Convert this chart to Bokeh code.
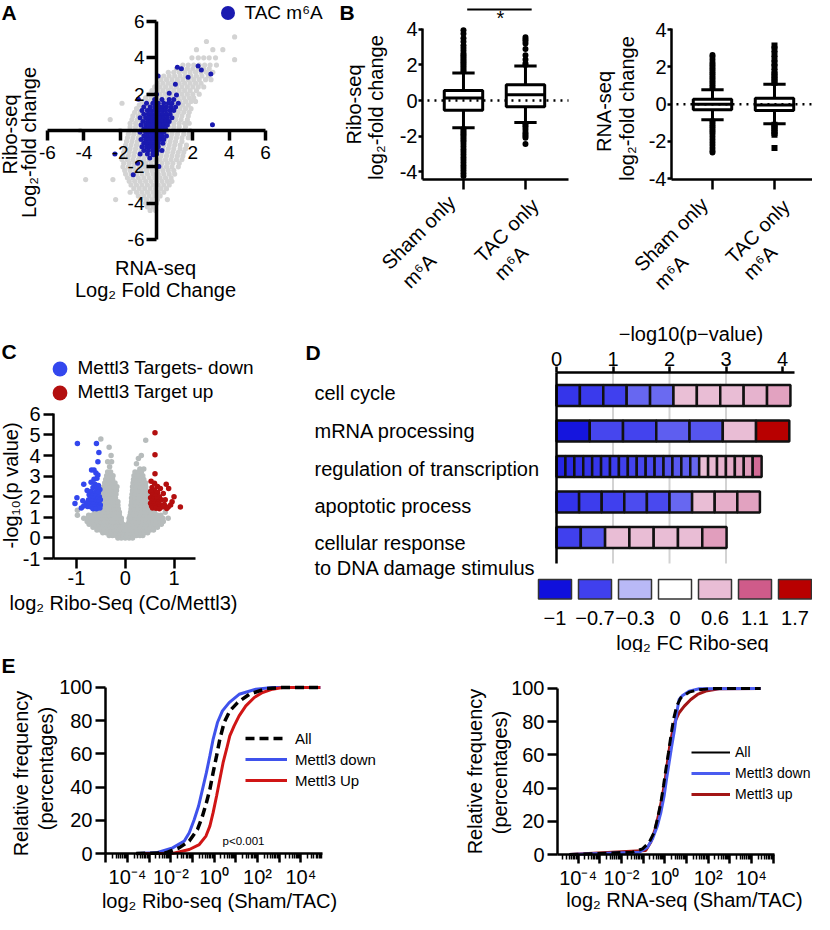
import math
from bokeh.plotting import figure
from bokeh.layouts import row, column
from bokeh.models import (Range1d, LinearAxis, LogAxis, LogScale, FixedTicker, Label,
                          Legend, LegendItem, CustomJSTickFormatter)
from bokeh.embed import file_html
from bokeh.resources import INLINE

FONT = "Liberation Sans"

# ---------------- DATA ----------------
# Panel A : Ribo-seq vs RNA-seq log2 fold change (rows of points: (y, [x...]))
a_ticks = [-6, -4, -2, 2, 4, 6]
a_gray_rows = [
    (5.15, [4.3]), (4.9, [2.75]), (4.45, [2.2, 3.1, 3.65]),
    (4.0, [1.95, 2.3, 2.6, 2.9, 3.25]), (3.9, [4.3]),
    (3.6, [1.45, 1.75, 2.05, 2.35, 2.65, 2.95, 3.3]),
    (3.4, [1.1, 1.4, 1.7, 2.0, 2.3, 2.6, 2.9]),
    (3.2, [0.65, 0.95, 1.25, 1.55, 1.85, 2.15, 2.45, 2.75, 3.1]),
    (3.0, [0.4, 0.7, 1.0, 1.3, 1.6, 1.9, 2.2, 2.5, 2.85]),
    (2.8, [0.25, 0.55, 0.85, 1.15, 1.45, 1.75, 2.05, 2.35, 2.7, 3.0]),
    (2.6, [0.05, 0.35, 0.65, 0.95, 1.25, 1.55, 1.85, 2.15, 2.45]),
    (2.4, [-0.1, 0.2, 0.5, 0.8, 1.1, 1.4, 1.7, 2.0, 2.3, 2.6]),
    (2.2, [-0.25, 0.05, 0.35, 0.65, 0.95, 1.25, 1.55, 1.85, 2.2]),
    (2.0, [-0.4, -0.1, 0.2, 0.5, 0.8, 1.1, 1.4, 1.7, 2.0, 2.35]),
    (1.8, [-0.6, -0.3, 0.0, 0.3, 0.6, 0.9, 1.2, 1.5, 1.8, 2.05]),
    (1.6, [-0.8, -0.5, -0.2, 0.1, 0.4, 0.7, 1.0, 1.3, 1.6, 1.9, 2.15]),
    (1.5, [-1.9]),
    (1.4, [-0.95, -0.65, -0.35, -0.05, 0.25, 0.55, 0.85, 1.15, 1.45, 1.75]),
    (1.2, [-1.1, -0.8, -0.5, -0.2, 0.1, 0.4, 0.7, 1.0, 1.3, 1.6, 1.9]),
    (1.0, [-1.2, -0.9, -0.6, -0.3, 0.0, 0.3, 0.6, 0.9, 1.2, 1.5, 1.8]),
    (0.8, [-1.3, -1.0, -0.7, -0.4, -0.1, 0.2, 0.5, 0.8, 1.1, 1.4, 1.75]),
    (0.6, [-2.55, -1.35, -1.05, -0.75, -0.45, -0.15, 0.15, 0.45, 0.75, 1.05, 1.35, 1.7]),
    (0.4, [-1.45, -1.15, -0.85, -0.55, -0.25, 0.05, 0.35, 0.65, 0.95, 1.25, 1.55, 1.8]),
    (0.2, [-1.45, -1.15, -0.85, -0.55, -0.25, 0.05, 0.35, 0.65, 0.95, 1.25, 1.6]),
    (0.0, [-4.2, -2.0, -1.5, -1.2, -0.9, -0.6, -0.3, 0.0, 0.3, 0.6, 0.9, 1.2, 1.5, 1.85]),
    (-0.2, [-1.55, -1.25, -0.95, -0.65, -0.35, -0.05, 0.25, 0.55, 0.85, 1.15, 1.5, 1.8]),
    (-0.4, [-1.6, -1.3, -1.0, -0.7, -0.4, -0.1, 0.2, 0.5, 0.8, 1.1, 1.4, 1.75]),
    (-0.6, [-1.65, -1.35, -1.05, -0.75, -0.45, -0.15, 0.15, 0.45, 0.75, 1.05, 1.4]),
    (-0.8, [-1.7, -1.4, -1.1, -0.8, -0.5, -0.2, 0.1, 0.4, 0.7, 1.0, 1.3, 1.65]),
    (-1.0, [-1.75, -1.45, -1.15, -0.85, -0.55, -0.25, 0.05, 0.35, 0.65, 0.95, 1.3, 1.6]),
    (-1.2, [-1.8, -1.5, -1.2, -0.9, -0.6, -0.3, 0.0, 0.3, 0.6, 0.9, 1.2, 1.5]),
    (-1.4, [-1.85, -1.55, -1.25, -0.95, -0.65, -0.35, -0.05, 0.25, 0.55, 0.85, 1.15, 1.45]),
    (-1.6, [-1.9, -1.6, -1.3, -1.0, -0.7, -0.4, -0.1, 0.2, 0.5, 0.8, 1.1, 1.4]),
    (-1.8, [-1.8, -1.5, -1.2, -0.9, -0.6, -0.3, 0.0, 0.3, 0.6, 0.9, 1.25]),
    (-2.0, [-1.85, -1.55, -1.25, -0.95, -0.65, -0.35, -0.05, 0.25, 0.55, 0.85, 1.2]),
    (-2.2, [-1.75, -1.45, -1.15, -0.85, -0.55, -0.25, 0.05, 0.35, 0.65, 0.95]),
    (-2.4, [-1.7, -1.4, -1.1, -0.8, -0.5, -0.2, 0.1, 0.4, 0.7, 1.0]),
    (-2.6, [-1.6, -1.3, -1.0, -0.7, -0.4, -0.1, 0.2, 0.5, 0.8]),
    (-2.7, [-3.9, -2.4]),
    (-2.8, [-1.5, -1.2, -0.9, -0.6, -0.3, 0.0, 0.3, 0.6, 0.85]),
    (-3.0, [-1.4, -1.1, -0.8, -0.5, -0.2, 0.1, 0.4, 0.7]),
    (-3.2, [-1.25, -0.95, -0.65, -0.35, -0.05, 0.25, 0.55]),
    (-3.4, [-1.45, -1.1, -0.8, -0.5, -0.2, 0.1, 0.4]),
    (-3.6, [-1.0, -0.7, -0.4, -0.1, 0.2]),
    (-3.8, [-2.25, -0.85, -0.55, -0.25, 0.05, 0.6]),
    (-4.0, [-0.6, -0.3, 0.0]),
    (-4.2, [-0.5, -0.2]),
    (-4.4, [-0.35, -0.05]),
]
a_blue_rows = [
    (3.55, [2.29]), (3.48, [1.15]), (3.4, [1.37]), (3.33, [2.47]), (3.11, [2.99]),
    (3.0, [0.09]), (2.93, [1.74]), (2.55, [1.04]), (2.05, [0.7]), (1.96, [1.1]),
    (2.0, [0.0]), (1.72, [-1.0]),
    (1.7, [-0.1, 0.3, 0.7, 0.95]),
    (1.5, [-0.55, -0.2, 0.1, 0.4, 0.65, 0.85, 1.2]),
    (1.3, [-0.7, -0.35, -0.1, 0.15, 0.35, 0.55, 0.8, 1.05]),
    (1.1, [-0.8, -0.5, -0.3, -0.1, 0.1, 0.3, 0.5, 0.75, 0.95]),
    (0.9, [-0.7, -0.45, -0.25, -0.05, 0.15, 0.35, 0.55, 0.75]),
    (0.7, [-0.9, -0.6, -0.4, -0.2, 0.0, 0.2, 0.4, 0.6, 0.85]),
    (0.5, [-0.75, -0.5, -0.3, -0.1, 0.1, 0.3, 0.5, 0.7]),
    (0.31, [3.08]),
    (0.3, [-0.85, -0.6, -0.4, -0.2, 0.0, 0.2, 0.4, 0.6]),
    (0.1, [-0.7, -0.5, -0.3, -0.1, 0.1, 0.3, 0.5]),
    (-0.1, [-0.9, -0.6, -0.4, -0.2, 0.0, 0.2, 0.4]),
    (-0.3, [-0.7, -0.5, -0.3, -0.1, 0.1, 0.3, 0.55]),
    (-0.5, [-0.85, -0.6, -0.4, -0.2, 0.0, 0.2, 0.4]),
    (-0.7, [-0.7, -0.5, -0.3, -0.1, 0.1, 0.35]),
    (-0.9, [-0.8, -0.55, -0.35, -0.15, 0.1]),
    (-1.1, [-0.7, -0.45, -0.2, 0.05, 0.3]),
    (-1.3, [-2.29, -0.9, -0.5, -0.2, 0.0]),
    (-1.52, [-0.37]), (-1.34, [-0.18]), (-1.8, [-1.04]), (-1.98, [0.13]), (-2.44, [-1.28]),
]

# Panel B : box plots (Sham only m6A = 0, TAC only m6A = 1)
b_cats = ["Sham only", "TAC only"]
b_yticks = [-4, -2, 0, 2, 4]
b_ribo_q1 = [-0.55, -0.35]
b_ribo_med = [0.14, 0.33]
b_ribo_q3 = [0.57, 0.88]
b_ribo_lo = [-1.53, -1.24]
b_ribo_hi = [1.55, 1.94]
b_ribo_out_sham = [1.65, 1.75, 1.85, 1.95, 2.05, 2.15, 2.25, 2.35, 2.45, 2.55, 2.65, 2.8, 2.95, 3.1,
                   3.3, 3.5, 3.75, 3.95, -1.6, -1.7, -1.8, -1.9, -2.0, -2.1, -2.2, -2.3, -2.45, -2.6,
                   -2.75, -2.9, -3.05, -3.2, -3.35, -3.5, -3.65, -3.8, -3.95, -4.1, -4.25]
b_ribo_out_tac = [2.0, 2.1, 2.3, 2.55, 2.9, 3.2, 3.35, 3.45, 3.55,
                  -1.3, -1.4, -1.5, -1.65, -1.8, -1.9, -2.0, -2.1, -2.45]
b_rna_q1 = [-0.3, -0.34]
b_rna_med = [0.0, -0.05]
b_rna_q3 = [0.26, 0.32]
b_rna_lo = [-0.84, -1.05]
b_rna_hi = [0.78, 1.07]
b_rna_out_sham = [0.85, 0.95, 1.05, 1.15, 1.25, 1.35, 1.45, 1.55, 1.65, 1.75, 1.85, 1.95, 2.05, 2.15,
                  2.25, 2.4, 2.55, 2.65, -0.9, -1.0, -1.1, -1.2, -1.3, -1.4, -1.5, -1.6, -1.75, -1.9,
                  -2.05, -2.2, -2.35, -2.5, -2.6]
b_rna_out_tac = [1.15, 1.3, 1.45, 1.6, 1.75, 2.0, 2.2, 2.45, 2.7, 2.95, 3.15,
                 -1.1, -1.2, -1.3, -1.45, -1.55, -1.65, -2.35]

# Panel C : volcano plot
c_yticks = [-1, 0, 1, 2, 3, 4, 5, 6]
c_xticks = [-1, 0, 1]
c_gray_rows = [
    (0.0, [-0.15, -0.08, 0.0, 0.08, 0.15]),
    (0.12, [-0.33, -0.26, -0.19, -0.12, -0.05, 0.02, 0.09, 0.16, 0.23, 0.3, 0.36]),
    (0.25, [-0.46, -0.39, -0.32, -0.25, -0.18, -0.11, -0.04, 0.04, 0.11, 0.18, 0.25, 0.32, 0.39, 0.46]),
    (0.38, [-0.58, -0.51, -0.44, -0.37, -0.3, -0.23, -0.16, -0.09, -0.03, 0.03, 0.09, 0.16, 0.23,
            0.3, 0.37, 0.44, 0.51, 0.58]),
    (0.52, [-0.66, -0.59, -0.52, -0.45, -0.38, -0.31, -0.24, -0.17, -0.1, -0.04, 0.04, 0.1, 0.17,
            0.24, 0.31, 0.38, 0.45, 0.52, 0.59, 0.66]),
    (0.66, [-0.74, -0.67, -0.6, -0.53, -0.46, -0.39, -0.32, -0.25, -0.18, -0.11, -0.05, 0.05, 0.11,
            0.18, 0.25, 0.32, 0.39, 0.46, 0.53, 0.6, 0.67, 0.74]),
    (0.8, [-0.78, -0.71, -0.64, -0.57, -0.5, -0.43, -0.36, -0.29, -0.22, -0.15, -0.08, 0.08, 0.15,
           0.22, 0.29, 0.36, 0.43, 0.5, 0.57, 0.64, 0.71, 0.78]),
    (0.95, [-0.85, -0.77, -0.7, -0.63, -0.56, -0.49, -0.42, -0.35, -0.28, -0.21, -0.14, -0.08, 0.08,
            0.14, 0.21, 0.28, 0.35, 0.42, 0.49, 0.56, 0.63, 0.7, 0.77, 0.88]),
    (1.1, [-0.98, -0.75, -0.68, -0.61, -0.54, -0.47, -0.4, -0.33, -0.26, -0.19, -0.12, 0.1, 0.17,
           0.24, 0.31, 0.38, 0.45, 0.52, 0.59, 0.66, 0.73]),
    (1.25, [-0.62, -0.55, -0.48, -0.41, -0.34, -0.27, -0.2, -0.12, 0.11, 0.18, 0.25, 0.32, 0.39,
            0.46, 0.53, 0.6, 0.82]),
    (1.34, [-0.98]),
    (1.4, [-0.5, -0.43, -0.36, -0.29, -0.22, -0.14, 0.12, 0.19, 0.26, 0.33, 0.4, 0.47]),
    (1.58, [-0.5, -0.43, -0.36, -0.29, -0.22, -0.15, 0.12, 0.19, 0.26, 0.33, 0.4, 0.47]),
    (1.76, [-0.49, -0.42, -0.35, -0.28, -0.21, -0.15, 0.13, 0.2, 0.27, 0.34, 0.41, 0.47]),
    (1.94, [-0.48, -0.41, -0.34, -0.27, -0.2, 0.13, 0.2, 0.27, 0.34, 0.41, 0.46]),
    (2.12, [-0.47, -0.4, -0.33, -0.26, -0.19, 0.14, 0.21, 0.28, 0.35, 0.42, 0.46]),
    (2.3, [-0.45, -0.38, -0.31, -0.24, -0.18, 0.15, 0.22, 0.29, 0.36, 0.43]),
    (2.48, [-0.44, -0.37, -0.3, -0.23, -0.17, 0.15, 0.22, 0.29, 0.36, 0.42]),
    (2.66, [-0.42, -0.35, -0.28, -0.21, 0.16, 0.23, 0.3, 0.37, 0.42]),
    (2.84, [-0.4, -0.33, -0.26, 0.17, 0.24, 0.31, 0.38]),
    (3.02, [-0.38, -0.31, -0.25, 0.18, 0.25, 0.3, 0.36]),
    (3.2, [-0.36, -0.3, 0.2, 0.27, 0.33]),
    (3.35, [0.3, 0.38]), (3.45, [-0.32]), (3.6, [0.23]), (3.7, [-0.36, -0.28]),
    (3.85, [0.27]), (4.0, [-0.29, 0.33]), (4.4, [-0.33]), (4.74, [0.42]), (4.8, [-0.5]),
]
c_down_x = [-0.98, -0.59, -0.54, -0.56, -0.64, -0.69, -0.6, -0.56, -0.64, -0.58, -0.85, -0.7, -0.62,
            -0.55, -0.66, -0.58, -0.52, -0.78, -0.7, -0.62, -0.55, -0.74, -0.66, -0.6, -0.53, -0.99,
            -0.7, -0.63, -0.56, -0.51, -0.87, -0.75, -0.68, -0.6, -0.54, -0.8, -1.03, -0.72, -0.65,
            -0.57, -0.51, -0.77, -0.7, -0.62, -0.55, -0.66, -0.59, -0.52, -0.85, -0.9]
c_down_y = [4.58, 4.58, 4.15, 3.7, 3.3, 3.3, 3.15, 3.05, 2.85, 2.9, 2.6, 2.7, 2.6, 2.55, 2.45, 2.4,
            2.35, 2.3, 2.25, 2.2, 2.2, 2.1, 2.05, 2.05, 2.0, 1.95, 1.95, 1.9, 1.9, 1.85, 1.8, 1.85,
            1.8, 1.75, 1.75, 1.7, 1.67, 1.65, 1.62, 1.6, 1.6, 1.52, 1.5, 1.5, 1.48, 1.42, 1.42, 1.45,
            1.55, 1.45]
c_up_x = [0.61, 0.61, 0.61, 0.53, 0.6, 0.84, 0.66, 0.55, 0.89, 0.72, 0.6, 0.52, 0.66, 0.78, 0.56,
          0.62, 0.7, 1.0, 0.52, 0.58, 0.65, 0.74, 0.82, 0.55, 0.62, 0.68, 0.96, 0.52, 0.58, 0.66,
          0.72, 0.8, 0.54, 0.6, 0.68, 0.77, 0.88, 1.13, 0.56, 0.63, 0.7, 0.85, 0.93]
c_up_y = [5.11, 4.04, 3.12, 2.75, 2.65, 2.6, 2.5, 2.45, 2.4, 2.4, 2.3, 2.25, 2.2, 2.15, 2.1, 2.05,
          2.0, 2.0, 1.95, 1.9, 1.9, 1.85, 1.85, 1.8, 1.75, 1.72, 1.75, 1.68, 1.65, 1.62, 1.6, 1.62,
          1.55, 1.52, 1.5, 1.5, 1.5, 1.5, 1.45, 1.44, 1.42, 1.43, 1.6]

# Panel D : GO terms, -log10(p) and log2 FC (Ribo-seq) of genes in each term
go_terms = ["cell cycle", "mRNA processing", "regulation of transcription", "apoptotic process",
            "cellular response"]
go_pvals = [4.14, 4.12, 3.63, 3.6, 3.01]
go_fc = [
    [-0.77, -0.74, -0.7, -0.57, -0.56, 0.58, 0.6, 0.6, 0.65, 0.74],
    [-0.97, -0.68, -0.69, -0.6, -0.63, 0.6, 1.7],
    [-0.86, -0.84, -0.8, -0.78, -0.76, -0.74, -0.72, -0.7, -0.69, -0.68, -0.67, -0.66, -0.64,
     -0.62, -0.6, -0.57, 0.58, 0.62, 0.65, 0.68, 0.72, 0.76, 1.02],
    [-0.78, -0.72, -0.7, -0.66, -0.67, -0.57, 0.6, 0.68, 0.74],
    [-0.7, -0.64, 0.6, 0.6, 0.6, 0.6, 0.76],
]
go_xticks = [0, 1, 2, 3, 4]
go_grid = [1, 2, 3]
key_vals = [-1, -0.7, -0.3, 0, 0.6, 1.1, 1.7]
key_labels = ["\u22121", "\u22120.7", "\u22120.3", "0", "0.6", "1.1", "1.7"]
key_colors = ["#1010dc", "#4040ee", "#b9b9f6", "#ffffff", "#e9bdd5", "#cf5b8a", "#b80000"]

# Panel E : cumulative distributions (log10 of ratio, cumulative %)
e_yticks = [0, 20, 40, 60, 80, 100]
e1_all_log = [-3.6, -2.9, -2.23, -1.62, -1.15, -0.77, -0.54, -0.36, -0.2, -0.05, 0.11, 0.26, 0.46,
              0.72, 1.08, 1.62, 2.38, 3.15, 4.9]
e1_all_pct = [0, 0.2, 0.4, 3.4, 7.5, 14.5, 22.6, 30.6, 38.6, 48.7, 58.8, 68.8, 78.9, 85.9, 90.9,
              95.9, 99.3, 100, 100]
e1_down_log = [-3.6, -2.69, -1.92, -1.38, -1.15, -0.92, -0.72, -0.54, -0.36, -0.2, -0.05, 0.15,
               0.38, 0.69, 1.15, 1.92, 2.69, 4.9]
e1_down_pct = [0, 0.4, 3.4, 7.5, 12.5, 20.5, 28.6, 38.6, 48.7, 58.8, 68.8, 78.9, 85.9, 90.9, 95.9,
               99, 100, 100]
e1_up_log = [-3.6, -1.92, -1.15, -0.69, -0.38, -0.2, -0.05, 0.11, 0.26, 0.41, 0.57, 0.72, 0.92,
             1.15, 1.46, 1.85, 2.23, 2.69, 3.15, 4.9]
e1_up_pct = [0, 0, 2.4, 5.4, 10.5, 16.5, 24.6, 34.6, 44.7, 54.7, 62.8, 70.9, 76.9, 82.9, 88.9, 94,
             97, 99, 100, 100]
e2_all_log = [-4.4, -1.49, -1.03, -0.72, -0.49, -0.34, -0.18, -0.06, 0.05, 0.17, 0.28, 0.4, 0.55,
              0.74, 1.12, 1.59, 2.2, 4.42]
e2_all_pct = [0, 1.4, 3.4, 7.4, 13.4, 21.4, 31.4, 41.4, 51.4, 61.4, 71.4, 81.3, 89.4, 94.4, 97.8,
              99.3, 100, 100]
e2_down_log = [-4.4, -1.18, -0.8, -0.57, -0.34, -0.18, -0.03, 0.08, 0.2, 0.32, 0.45, 0.55, 0.66,
               0.82, 1.12, 1.59, 4.42]
e2_down_pct = [0, 1.4, 4.4, 9.4, 17.4, 25.4, 35.4, 45.4, 55.4, 65.4, 75.4, 85.4, 93.4, 95.8, 98.4,
               99.8, 100]
e2_up_log = [-4.4, -0.88, -0.65, -0.44, -0.26, -0.11, 0.02, 0.12, 0.23, 0.36, 0.48, 0.66, 0.9, 1.2,
             1.51, 1.89, 2.51, 4.42]
e2_up_pct = [0, 2.4, 7.4, 15.4, 25.4, 35.4, 45.4, 55.4, 65.4, 74.4, 80.4, 85.4, 89.4, 93.4, 96.4,
             98.4, 99.8, 100]


# ---------------- HELPERS ----------------
def flatten(rows):
    xs, ys = [], []
    for yv, xrow in rows:
        for xv in xrow:
            xs.append(xv)
            ys.append(yv)
    return xs, ys


def make_fig(W, H, org, frame, xr, yr, xlog=False):
    """Whole canvas is the drawing area; 'frame' (page px) is where xr/yr of the panel lie."""
    ox, oy = org
    L, T, R, B = frame
    a0, a1 = (math.log10(xr[0]), math.log10(xr[1])) if xlog else xr
    fx = lambda px: a0 + (px - L) / (R - L) * (a1 - a0)
    fy = lambda py: yr[0] + (B - py) / (B - T) * (yr[1] - yr[0])
    xs, xe = fx(ox), fx(ox + W)
    if xlog:
        xs, xe = 10 ** xs, 10 ** xe
    p = figure(width=W, height=H, x_range=Range1d(xs, xe), y_range=Range1d(fy(oy + H), fy(oy)),
               x_axis_type=None, y_axis_type=None, output_backend="svg",
               toolbar_location=None, min_border=0, min_border_left=0, min_border_right=0,
               min_border_top=0, min_border_bottom=0)
    if xlog:
        p.x_scale = LogScale()
    p.outline_line_color = None
    p.background_fill_color = "white"
    p.border_fill_color = "white"
    X = (lambda px: 10 ** fx(px)) if xlog else fx
    return p, X, fy


def txt(p, x, y, text, size=20, align="center", baseline="middle", angle=0.0, bold=False,
        color="black", rng=None):
    kw = {}
    if rng:
        kw["x_range_name"] = rng
        kw["y_range_name"] = rng
    p.add_layout(Label(x=x, y=y, text=text, text_font=FONT, text_font_size=f"{size}px",
                       text_align=align, text_baseline=baseline, angle=angle,
                       text_font_style="bold" if bold else "normal", text_color=color, **kw))


def add_axis(p, side, ticks, loc, bounds, size=20, lw=2.5, tick_out=8, standoff=3,
             labels=True, log=False, fmt=None, minor=None):
    cls = LogAxis if log else LinearAxis
    ticker = FixedTicker(ticks=ticks, minor_ticks=minor or [])
    ax = cls(ticker=ticker, fixed_location=loc, bounds=bounds)
    if fmt is not None:
        ax.formatter = fmt
    ax.axis_line_width = lw
    ax.axis_line_color = "black"
    ax.major_tick_line_width = lw
    ax.major_tick_line_color = "black"
    ax.major_tick_in = 0
    ax.major_tick_out = tick_out
    if minor:
        ax.minor_tick_line_color = "black"
        ax.minor_tick_line_width = 1.5
        ax.minor_tick_in = 0
        ax.minor_tick_out = 5
    else:
        ax.minor_tick_line_color = None
    ax.major_label_text_font = FONT
    ax.major_label_text_font_size = f"{size}px"
    ax.major_label_text_color = "black"
    ax.major_label_standoff = standoff
    if fmt is None:
        ax.major_label_overrides = {t: (str(t) if labels else "") for t in ticks}
    p.add_layout(ax, side)
    return ax


def legend(items, loc, gw, gh, size, standoff, spacing=0):
    return Legend(items=items, location=loc, glyph_width=gw, glyph_height=gh,
                  label_height=gh, label_standoff=standoff, spacing=spacing,
                  label_text_font=FONT, label_text_font_size=f"{size}px",
                  label_text_color="black", background_fill_alpha=0,
                  border_line_color=None, padding=0, margin=0)


HALF_PI = math.pi / 2
Q_PI = math.pi / 4

# ---------------- PANEL A ----------------
A_ORG, A_W, A_H = (8, 8), 335, 302
pA, XA, YA = make_fig(A_W, A_H, A_ORG, (55, 29, 273, 247), (-6, 6), (-6, 6))
gx, gy = flatten(a_gray_rows)
pA.scatter(gx, gy, size=5.2, fill_color="#d3d3d3", line_color=None)
bx, by = flatten(a_blue_rows)
rA = pA.scatter(bx, by, size=5, fill_color="#1a1ab0", line_color=None)
add_axis(pA, "below", a_ticks, 0, (-6, 6), 19, 3.5, 10, 5)
add_axis(pA, "left", a_ticks, 0, (-6, 6), 19, 3.5, 10, 2)
pA.add_layout(legend([LegendItem(label="TAC m\u2076A", renderers=[rA])],
                     (217.5 - A_ORG[0], A_ORG[1] + A_H - 38.2), 35, 35, 19, -6))
txt(pA, XA(9), YA(20), "A", 21, "left", bold=True)
txt(pA, XA(17.5), YA(142), "Ribo-seq", angle=HALF_PI)
txt(pA, XA(36), YA(150), "Log\u2082-fold change", angle=HALF_PI)
txt(pA, XA(163), YA(275), "RNA-seq")
txt(pA, XA(163), YA(297), "Log\u2082 Fold Change")


# ---------------- PANEL B ----------------
def box_panel(p, xr, yb, q1, med, q3, lo, hi, out_sham, out_tac, tac_marker):
    xs = [0, 1]
    w = 0.62
    cap = 0.18
    p.segment(x0=xs, x1=xs, y0=q3, y1=hi, line_color="black", line_width=3)
    p.segment(x0=xs, x1=xs, y0=q1, y1=lo, line_color="black", line_width=3)
    p.segment(x0=[x - cap for x in xs], x1=[x + cap for x in xs], y0=hi, y1=hi,
              line_color="black", line_width=3)
    p.segment(x0=[x - cap for x in xs], x1=[x + cap for x in xs], y0=lo, y1=lo,
              line_color="black", line_width=3)
    p.vbar(x=xs, width=w, top=q3, bottom=q1, fill_color="white", line_color="black", line_width=3)
    p.segment(x0=[x - w / 2 for x in xs], x1=[x + w / 2 for x in xs], y0=med, y1=med,
              line_color="black", line_width=3)
    p.scatter([0] * len(out_sham), out_sham, size=6, fill_color="black", line_color=None)
    p.scatter([1] * len(out_tac), out_tac, size=6, marker=tac_marker, fill_color="black",
              line_color=None)
    p.segment(x0=[xr[0] + 0.08], x1=[xr[1]], y0=[0], y1=[0], line_dash="2 5", line_width=2.5,
              line_color="black")
    add_axis(p, "left", b_yticks, xr[0], (yb[0], 4.05), 20, 2.5, 4, 1)
    add_axis(p, "below", [0, 1], yb[0], xr, 20, 2.5, 10, 2, labels=False)


B1_XR, B1_YB = (-0.661, 1.694), (-4.44, 5.51)
pB1, XB1, YB1 = make_fig(237, 302, (343, 8), (430, 10, 576, 187), B1_XR, B1_YB)
box_panel(pB1, B1_XR, B1_YB, b_ribo_q1, b_ribo_med, b_ribo_q3, b_ribo_lo, b_ribo_hi,
          b_ribo_out_sham, b_ribo_out_tac, "circle")
sig_y = YB1(17)
pB1.segment(x0=[0.06], x1=[1.1], y0=[sig_y], y1=[sig_y], line_color="black", line_width=2)
txt(pB1, XB1(508), YB1(25), "*", 20, baseline="alphabetic")
txt(pB1, XB1(347), YB1(20), "B", 21, "left", bold=True)
txt(pB1, XB1(361), YB1(112), "Ribo-seq", angle=HALF_PI)
txt(pB1, XB1(383), YB1(115), "log\u2082-fold change", angle=HALF_PI)
txt(pB1, XB1(426), YB1(240), "Sham only", angle=Q_PI)
txt(pB1, XB1(426.5), YB1(278.5), "m\u2076A", angle=Q_PI)
txt(pB1, XB1(514), YB1(238), "TAC only", angle=Q_PI)
txt(pB1, XB1(518.5), YB1(270.5), "m\u2076A", angle=Q_PI)

B2_XR, B2_YB = (-0.661, 1.613), (-4.05, 4.07)
pB2, XB2, YB2 = make_fig(240, 302, (580, 8), (679, 36, 820, 187), B2_XR, B2_YB)
box_panel(pB2, B2_XR, B2_YB, b_rna_q1, b_rna_med, b_rna_q3, b_rna_lo, b_rna_hi,
          b_rna_out_sham, b_rna_out_tac, "square")
txt(pB2, XB2(611), YB2(119), "RNA-seq", angle=HALF_PI)
txt(pB2, XB2(634), YB2(116), "log\u2082-fold change", angle=HALF_PI)
txt(pB2, XB2(678.5), YB2(242), "Sham only", angle=Q_PI)
txt(pB2, XB2(678.5), YB2(280), "m\u2076A", angle=Q_PI)
txt(pB2, XB2(765), YB2(239), "TAC only", angle=Q_PI)
txt(pB2, XB2(767.5), YB2(270), "m\u2076A", angle=Q_PI)

# ---------------- PANEL C ----------------
C_ORG, C_W, C_H = (8, 310), 292, 350
C_XR, C_YR = (-1.47, 1.44), (-1.0, 6.04)
pC, XC, YC = make_fig(C_W, C_H, C_ORG, (61, 421, 203, 566), C_XR, C_YR)
cgx, cgy = flatten(c_gray_rows)
pC.scatter(cgx, cgy, size=5.5, fill_color="#b7bcbc", line_color=None)
rC_down = pC.scatter(c_down_x, c_down_y, size=5.5, fill_color="#3347ee", line_color=None)
rC_up = pC.scatter(c_up_x, c_up_y, size=5.5, fill_color="#b30f0f", line_color=None)
add_axis(pC, "left", c_yticks, C_XR[0], C_YR, 20, 2.5, 10, 3)
add_axis(pC, "below", c_xticks, C_YR[0], C_XR, 20, 2.5, 10, 2)
pC.add_layout(legend([LegendItem(label="Mettl3 Targets- down", renderers=[rC_down])],
                     (48.5 - C_ORG[0], C_ORG[1] + C_H - 394.5), 37, 37, 19, -4))
pC.add_layout(legend([LegendItem(label="Mettl3 Target up", renderers=[rC_up])],
                     (48.5 - C_ORG[0], C_ORG[1] + C_H - 418.5), 37, 37, 19, -4))
txt(pC, XC(9), YC(358.5), "C", 21, "left", bold=True)
txt(pC, XC(18), YC(493), "-log\u2081\u2080(p value)", angle=HALF_PI)
txt(pC, XC(131), YC(610), "log\u2082 Ribo-Seq (Co/Mettl3)")


# ---------------- PANEL D ----------------
def hex2rgb(h):
    return tuple(int(h[i:i + 2], 16) for i in (1, 3, 5))


def fc_color(v):
    if v <= key_vals[0]:
        return key_colors[0]
    if v >= key_vals[-1]:
        return key_colors[-1]
    for i in range(len(key_vals) - 1):
        a, b = key_vals[i], key_vals[i + 1]
        if a <= v <= b:
            t = (v - a) / (b - a)
            c0, c1 = hex2rgb(key_colors[i]), hex2rgb(key_colors[i + 1])
            return "#%02x%02x%02x" % tuple(round(c0[k] + t * (c1[k] - c0[k])) for k in range(3))


D_ORG, D_W, D_H = (300, 310), 520, 350
D_TOP, D_BOT, D_END = -0.648, 4.732, 4.212
pD, XD, YD = make_fig(D_W, D_H, D_ORG, (564, 380, 802, 571), (0, D_END), (D_BOT, D_TOP))
# colour-key coordinate system: square i centred at page x 562.5 + 40 i, squares span page y 587..606.5
KX = lambda px: (px - 562.5) / 40.0
KY = lambda py: (606.5 - py) / 19.5
pD.extra_x_ranges = {"key": Range1d(KX(D_ORG[0]), KX(D_ORG[0] + D_W))}
pD.extra_y_ranges = {"key": Range1d(KY(D_ORG[1] + D_H), KY(D_ORG[1]))}

pD.segment(x0=go_grid, x1=go_grid, y0=D_TOP, y1=D_BOT, line_color="#d3d3d3",
           line_width=2, level="underlay")
lefts, rights, tops, bottoms, cols = [], [], [], [], []
for i, (Lp, fcs) in enumerate(zip(go_pvals, go_fc)):
    n = len(fcs)
    for k, v in enumerate(fcs):
        lefts.append(Lp * k / n)
        rights.append(Lp * (k + 1) / n)
        tops.append(i - 0.296)
        bottoms.append(i + 0.296)
        cols.append(fc_color(v))
pD.quad(left=lefts, right=rights, top=tops, bottom=bottoms, fill_color=cols,
        line_color="#111111", line_width=2.5)
add_axis(pD, "above", go_xticks, D_TOP, (0, D_END), 20, 2.5, 6, 1)
add_axis(pD, "left", [], 0, (D_TOP, D_BOT), 20, 2.5, 0, 0)
pD.rect(x=list(range(len(key_vals))), y=[0.5] * len(key_vals), width=0.825, height=1.0,
        fill_color=key_colors, line_color="#333333", line_width=1.5,
        x_range_name="key", y_range_name="key")
for i, lab in enumerate(key_labels):
    txt(pD, i, KY(625), lab, 20, rng="key")
txt(pD, KX(700), KY(650), "log\u2082 FC Ribo-seq", 20, rng="key")
txt(pD, XD(313), YD(359.5), "D", 21, "left", bold=True)
txt(pD, XD(698.5), YD(341), "\u2212log10(p\u2212value)")
term_py = [400, 438, 476, 513, 550]
for term, py in zip(go_terms, term_py):
    txt(pD, XD(322), YD(py), term, 20, "left")
txt(pD, XD(322), YD(575), "to DNA damage stimulus", 20, "left")

# ---------------- PANEL E ----------------
log_fmt = CustomJSTickFormatter(code="""
const e = Math.round(Math.log10(tick));
if (e % 2 !== 0 || e < -4 || e > 4) { return ""; }
const sup = {"-": "\u207b", "0": "\u2070", "1": "\u00b9", "2": "\u00b2", "3": "\u00b3", "4": "\u2074"};
return "10" + String(e).split("").map(c => sup[c]).join("");
""")
major_dec = [10.0 ** k for k in range(-5, 6)]
minor_dec = [m * 10.0 ** k for k in range(-6, 6) for m in range(2, 10)]


def e_axes(p, xr):
    inside = lambda v: xr[0] <= v <= xr[1]
    add_axis(p, "left", e_yticks, xr[0], (0, 100), 20, 2.5, 10, 3)
    add_axis(p, "below", [v for v in major_dec if inside(v)], 0, xr, 20, 2.5, 9, 3, log=True,
             fmt=log_fmt, minor=[v for v in minor_dec if inside(v)])


E_W, E_H = 412, 260
E1_ORG = (8, 660)
E1_XR = (10 ** -5.016, 10 ** 4.998)
pE1, XE1, YE1 = make_fig(E_W, E_H, E1_ORG, (113, 692, 330, 861), E1_XR, (0, 101.8), xlog=True)
e_axes(pE1, E1_XR)
rE1_down = pE1.line([10 ** v for v in e1_down_log], e1_down_pct, line_color="#3f52ec", line_width=3)
rE1_up = pE1.line([10 ** v for v in e1_up_log], e1_up_pct, line_color="#d01515", line_width=3)
rE1_all = pE1.line([10 ** v for v in e1_all_log], e1_all_pct, line_color="black", line_width=3.5,
                   line_dash="9 5")
pE1.add_layout(legend([LegendItem(label="All", renderers=[rE1_all]),
                       LegendItem(label="Mettl3 down", renderers=[rE1_down]),
                       LegendItem(label="Mettl3 Up", renderers=[rE1_up])],
                      (253 - E1_ORG[0], E1_ORG[1] + E_H - 797), 42, 18, 15, 8, 3))
txt(pE1, XE1(9), YE1(672.5), "E", 21, "left", bold=True)
txt(pE1, XE1(28.5), YE1(781), "Relative frequency", angle=HALF_PI)
txt(pE1, XE1(53), YE1(776), "(percentages)", angle=HALF_PI)
txt(pE1, XE1(227), YE1(908), "log\u2082 Ribo-seq (Sham/TAC)")
txt(pE1, XE1(251), YE1(848), "p<0.001", 11.5)

E2_ORG, E2_W = (420, 660), 400
E2_XR = (10 ** -4.952, 10 ** 5.062)
pE2, XE2, YE2 = make_fig(E2_W, E_H, E2_ORG, (565, 693, 782, 862), E2_XR, (0, 101.8), xlog=True)
e_axes(pE2, E2_XR)
rE2_up = pE2.line([10 ** v for v in e2_up_log], e2_up_pct, line_color="#a31515", line_width=3)
rE2_down = pE2.line([10 ** v for v in e2_down_log], e2_down_pct, line_color="#4a5cf0", line_width=3)
pE2.line([10 ** v for v in e2_all_log], e2_all_pct, line_color="black", line_width=3,
         line_dash="9 5")
rE2_all_key = pE2.line([1e-3, 1e-2], [-300, -300], line_color="black", line_width=2)
pE2.add_layout(legend([LegendItem(label="All", renderers=[rE2_all_key]),
                       LegendItem(label="Mettl3 down", renderers=[rE2_down]),
                       LegendItem(label="Mettl3 up", renderers=[rE2_up])],
                      (699 - E2_ORG[0], E2_ORG[1] + E_H - 811), 39, 18, 14, 5, 3))
txt(pE2, XE2(482.5), YE2(779), "Relative frequency", angle=HALF_PI)
txt(pE2, XE2(507), YE2(780), "(percentages)", angle=HALF_PI)
txt(pE2, XE2(692), YE2(907), "log\u2082 RNA-seq (Sham/TAC)")

layout = column(row(pA, pB1, pB2), row(pC, pD), row(pE1, pE2))
open("out.html", "w").write(file_html(layout, INLINE))
